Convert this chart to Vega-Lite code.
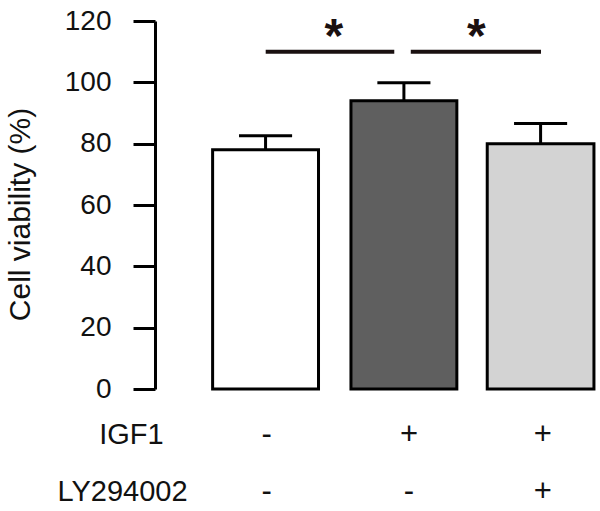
{
  "$schema": "https://vega.github.io/schema/vega-lite/v6.json",
  "width": 445,
  "height": 368,
  "autosize": {"type": "none"},
  "padding": {"left": 155, "top": 21, "right": 0, "bottom": 122},
  "background": "white",
  "config": {
    "view": {"stroke": null},
    "font": "Liberation Sans",
    "text": {"font": "Liberation Sans", "color": "black"}
  },
  "layer": [
    {
      "data": {"values": [
        {"group": "Control", "x0": 0.615, "x1": 1.385, "value": 78},
        {"group": "IGF1", "x0": 1.621, "x1": 2.391, "value": 94},
        {"group": "IGF1+LY294002", "x0": 2.612, "x1": 3.388, "value": 80}
      ]},
      "mark": {"type": "bar", "stroke": "black", "strokeWidth": 3, "opacity": 1},
      "encoding": {
        "x": {"field": "x0", "type": "quantitative", "scale": {"domain": [0.196, 3.432], "nice": false, "zero": false}, "axis": null},
        "x2": {"field": "x1"},
        "y": {"field": "value", "type": "quantitative", "scale": {"domain": [0, 120], "nice": false},
          "axis": {
            "title": "Cell viability (%)",
            "values": [0, 20, 40, 60, 80, 100, 120],
            "grid": false,
            "domainColor": "black", "domainWidth": 3,
            "tickColor": "black", "tickWidth": 3, "tickSize": 22,
            "labelFont": "Liberation Sans", "labelFontSize": 28, "labelColor": "#111111", "labelPadding": 22,
            "titleFont": "Liberation Sans", "titleFontSize": 30, "titleFontWeight": "normal", "titleColor": "#111111",
            "titlePadding": 29, "titleY": 193
          }},
        "y2": {"datum": 0},
        "fill": {"field": "group", "type": "nominal", "scale": {"domain": ["Control", "IGF1", "IGF1+LY294002"], "range": ["#ffffff", "#5f5f5f", "#d3d3d3"]}, "legend": null}
      }
    },
    {
      "data": {"values": [
        {"xc": 1.0, "lo": 78, "hi": 82.6},
        {"xc": 2.006, "lo": 94, "hi": 99.9},
        {"xc": 3.0, "lo": 80, "hi": 86.6}
      ]},
      "mark": {"type": "rule", "color": "black", "strokeWidth": 3},
      "encoding": {
        "x": {"field": "xc", "type": "quantitative"},
        "y": {"field": "lo", "type": "quantitative"},
        "y2": {"field": "hi"}
      }
    },
    {
      "data": {"values": [
        {"c0": 0.807, "c1": 1.193, "hi": 82.6},
        {"c0": 1.813, "c1": 2.199, "hi": 99.9},
        {"c0": 2.807, "c1": 3.193, "hi": 86.6}
      ]},
      "mark": {"type": "rule", "color": "black", "strokeWidth": 3},
      "encoding": {
        "x": {"field": "c0", "type": "quantitative"},
        "x2": {"field": "c1"},
        "y": {"field": "hi", "type": "quantitative"}
      }
    },
    {
      "data": {"values": [
        {"s0": 1.001, "s1": 1.936, "y": 110},
        {"s0": 2.056, "s1": 3.003, "y": 110}
      ]},
      "mark": {"type": "rule", "color": "#1a1010", "strokeWidth": 4},
      "encoding": {
        "x": {"field": "s0", "type": "quantitative"},
        "x2": {"field": "s1"},
        "y": {"field": "y", "type": "quantitative"}
      }
    },
    {
      "data": {"values": [
        {"x": 1.496, "y": 114.3, "t": "*"},
        {"x": 2.533, "y": 114.3, "t": "*"}
      ]},
      "mark": {"type": "text", "fontSize": 48, "fontWeight": "bold", "baseline": "middle", "align": "center", "color": "#1a1010"},
      "encoding": {
        "x": {"field": "x", "type": "quantitative"},
        "y": {"field": "y", "type": "quantitative"},
        "text": {"field": "t"}
      }
    },
    {
      "data": {"values": [
        {"x": 0.025, "y": -15, "t": "IGF1"},
        {"x": -0.04, "y": -33.6, "t": "LY294002"}
      ]},
      "mark": {"type": "text", "fontSize": 29, "baseline": "middle", "align": "center", "color": "#111111"},
      "encoding": {
        "x": {"field": "x", "type": "quantitative"},
        "y": {"field": "y", "type": "quantitative"},
        "text": {"field": "t"}
      }
    },
    {
      "data": {"values": [
        {"x": 1.008, "y": -15, "t": "-"},
        {"x": 2.043, "y": -15, "t": "+"},
        {"x": 3.016, "y": -15, "t": "+"},
        {"x": 1.008, "y": -33.6, "t": "-"},
        {"x": 2.043, "y": -33.6, "t": "-"},
        {"x": 3.016, "y": -33.6, "t": "+"}
      ]},
      "mark": {"type": "text", "fontSize": 31, "baseline": "middle", "align": "center", "color": "#111111"},
      "encoding": {
        "x": {"field": "x", "type": "quantitative"},
        "y": {"field": "y", "type": "quantitative"},
        "text": {"field": "t"}
      }
    }
  ]
}
